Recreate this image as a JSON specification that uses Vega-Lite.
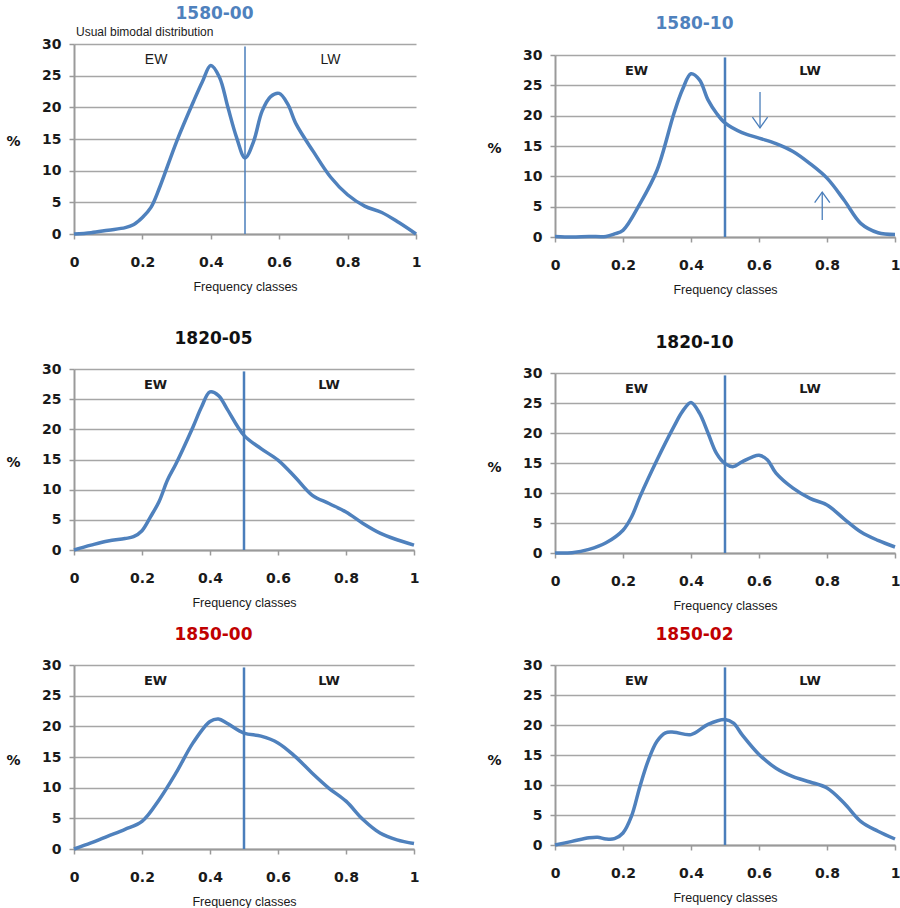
{
  "$schema": "https://vega.github.io/schema/vega-lite/v6.json",
  "background": "white",
  "padding": 5,
  "datasets": {
    "p1": [
      {"x":0,"y":0},{"x":0.05,"y":0.2},{"x":0.1,"y":0.6},{"x":0.15,"y":1.0},{"x":0.175,"y":1.5},{"x":0.2,"y":2.6},{"x":0.225,"y":4.2},{"x":0.25,"y":7.3},{"x":0.3,"y":14.6},{"x":0.35,"y":21},{"x":0.375,"y":24},{"x":0.4,"y":26.6},{"x":0.425,"y":24.8},{"x":0.45,"y":20},{"x":0.475,"y":15.3},{"x":0.5,"y":12},{"x":0.525,"y":14.6},{"x":0.55,"y":19.4},{"x":0.575,"y":21.7},{"x":0.6,"y":22.2},{"x":0.625,"y":20.5},{"x":0.65,"y":17.3},{"x":0.7,"y":13},{"x":0.75,"y":9},{"x":0.8,"y":6.2},{"x":0.85,"y":4.4},{"x":0.9,"y":3.4},{"x":0.95,"y":1.8},{"x":1,"y":0}
    ],
    "p2": [
      {"x":0,"y":0.1},{"x":0.05,"y":0},{"x":0.1,"y":0.1},{"x":0.15,"y":0.1},{"x":0.175,"y":0.5},{"x":0.2,"y":1.1},{"x":0.25,"y":5.5},{"x":0.3,"y":11},{"x":0.35,"y":20.4},{"x":0.375,"y":24.3},{"x":0.4,"y":26.9},{"x":0.425,"y":25.9},{"x":0.45,"y":22.6},{"x":0.475,"y":20.4},{"x":0.5,"y":18.8},{"x":0.55,"y":17.2},{"x":0.6,"y":16.3},{"x":0.65,"y":15.4},{"x":0.7,"y":14.1},{"x":0.75,"y":12.1},{"x":0.8,"y":9.7},{"x":0.85,"y":6.1},{"x":0.9,"y":2.2},{"x":0.95,"y":0.7},{"x":1,"y":0.4}
    ],
    "p3": [
      {"x":0,"y":0},{"x":0.05,"y":0.8},{"x":0.1,"y":1.5},{"x":0.15,"y":1.9},{"x":0.175,"y":2.2},{"x":0.2,"y":3.2},{"x":0.225,"y":5.5},{"x":0.25,"y":8},{"x":0.275,"y":11.6},{"x":0.3,"y":14.3},{"x":0.35,"y":20.4},{"x":0.375,"y":23.7},{"x":0.4,"y":26.2},{"x":0.425,"y":25.6},{"x":0.45,"y":23.4},{"x":0.5,"y":19},{"x":0.55,"y":16.8},{"x":0.6,"y":14.9},{"x":0.65,"y":12.1},{"x":0.7,"y":9.1},{"x":0.75,"y":7.7},{"x":0.8,"y":6.3},{"x":0.85,"y":4.4},{"x":0.9,"y":2.8},{"x":0.95,"y":1.7},{"x":1,"y":0.8}
    ],
    "p4": [
      {"x":0,"y":0},{"x":0.05,"y":0.05},{"x":0.1,"y":0.6},{"x":0.15,"y":1.7},{"x":0.2,"y":3.8},{"x":0.225,"y":6},{"x":0.25,"y":9.4},{"x":0.3,"y":15.5},{"x":0.35,"y":21.1},{"x":0.375,"y":23.6},{"x":0.4,"y":25.1},{"x":0.425,"y":23.3},{"x":0.45,"y":20},{"x":0.475,"y":16.6},{"x":0.5,"y":14.9},{"x":0.525,"y":14.4},{"x":0.55,"y":15.2},{"x":0.6,"y":16.3},{"x":0.625,"y":15.5},{"x":0.65,"y":13.3},{"x":0.7,"y":10.8},{"x":0.75,"y":9.1},{"x":0.8,"y":8},{"x":0.85,"y":5.7},{"x":0.9,"y":3.5},{"x":0.95,"y":2.1},{"x":1,"y":1}
    ],
    "p5": [
      {"x":0,"y":0},{"x":0.05,"y":1},{"x":0.1,"y":2.1},{"x":0.15,"y":3.2},{"x":0.2,"y":4.5},{"x":0.25,"y":8},{"x":0.3,"y":12.4},{"x":0.35,"y":17.3},{"x":0.4,"y":20.8},{"x":0.425,"y":21.2},{"x":0.45,"y":20.5},{"x":0.5,"y":18.9},{"x":0.55,"y":18.4},{"x":0.6,"y":17.3},{"x":0.65,"y":15.1},{"x":0.7,"y":12.4},{"x":0.75,"y":9.9},{"x":0.8,"y":7.8},{"x":0.85,"y":4.8},{"x":0.9,"y":2.6},{"x":0.95,"y":1.5},{"x":1,"y":0.9}
    ],
    "p6": [
      {"x":0,"y":0},{"x":0.05,"y":0.6},{"x":0.1,"y":1.2},{"x":0.125,"y":1.3},{"x":0.15,"y":1},{"x":0.175,"y":1.05},{"x":0.2,"y":2},{"x":0.225,"y":4.8},{"x":0.25,"y":9.8},{"x":0.275,"y":14.2},{"x":0.3,"y":17.3},{"x":0.325,"y":18.7},{"x":0.35,"y":18.8},{"x":0.4,"y":18.4},{"x":0.45,"y":20.1},{"x":0.5,"y":20.9},{"x":0.525,"y":20.3},{"x":0.55,"y":18.4},{"x":0.6,"y":15.1},{"x":0.65,"y":12.8},{"x":0.7,"y":11.4},{"x":0.75,"y":10.5},{"x":0.8,"y":9.5},{"x":0.85,"y":7},{"x":0.9,"y":3.9},{"x":0.95,"y":2.3},{"x":1,"y":1}
    ],
    "divider": [{"x":0.5,"y":0,"y2":29.6}],
    "zones": [{"label":"EW","x":0.24,"y":27.4},{"label":"LW","x":0.75,"y":27.4}]
  },
  "hconcat": [
    {
      "spacing": 37,
      "vconcat": [
        {
          "title": {"text": "1580-00", "color": "#4F81BD", "offset": 3},
          "width": 342, "height": 190,
          "encoding": {
            "x": {"field": "x", "type": "quantitative", "scale": {"domain": [0, 1], "nice": false, "zero": false}, "axis": {"values": [0, 0.2, 0.4, 0.6, 0.8, 1], "format": "~g", "title": "Frequency classes"}},
            "y": {"field": "y", "type": "quantitative", "scale": {"domain": [0, 30]}, "axis": {"values": [0, 5, 10, 15, 20, 25, 30], "title": "%", "titleY": 97}}
          },
          "layer": [
            {"data": {"name": "p1"}, "mark": {"type": "line", "interpolate": "catmull-rom", "color": "#4F81BD", "strokeWidth": 3.5}},
            {"data": {"name": "divider"}, "mark": {"type": "rule", "color": "#4A7EBB", "strokeWidth": 1.5}, "encoding": {"y2": {"field": "y2"}}},
            {"data": {"name": "zones"}, "mark": {"type": "text", "font": "Liberation Sans", "fontSize": 14, "color": "#1a1a1a"}, "encoding": {"text": {"field": "label"}}},
            {"data": {"values": [{"note": "Usual bimodal distribution", "x": 0, "y": 30}]}, "mark": {"type": "text", "align": "left", "baseline": "middle", "dx": 2, "dy": -12, "font": "Liberation Sans", "fontSize": 12, "color": "#1a1a1a"}, "encoding": {"text": {"field": "note"}}}
          ]
        },
        {
          "spacing": 17,
          "vconcat": [
            {
              "title": {"text": "1820-05", "color": "#111111"},
              "width": 340, "height": 181,
              "encoding": {
                "x": {"field": "x", "type": "quantitative", "scale": {"domain": [0, 1], "nice": false, "zero": false}, "axis": {"values": [0, 0.2, 0.4, 0.6, 0.8, 1], "format": "~g", "title": "Frequency classes"}},
                "y": {"field": "y", "type": "quantitative", "scale": {"domain": [0, 30]}, "axis": {"values": [0, 5, 10, 15, 20, 25, 30], "title": "%", "titleY": 93}}
              },
              "layer": [
                {"data": {"name": "p3"}, "mark": {"type": "line", "interpolate": "catmull-rom", "color": "#4F81BD", "strokeWidth": 3.5}},
                {"data": {"name": "divider"}, "mark": {"type": "rule", "color": "#4A7EBB", "strokeWidth": 2.5}, "encoding": {"y2": {"field": "y2"}}},
                {"data": {"name": "zones"}, "mark": {"type": "text", "font": "DejaVu Sans", "fontWeight": "bold", "fontSize": 13, "color": "#1a1a1a"}, "encoding": {"text": {"field": "label"}}}
              ]
            },
            {
              "title": {"text": "1850-00", "color": "#C00000"},
              "width": 340, "height": 184,
              "encoding": {
                "x": {"field": "x", "type": "quantitative", "scale": {"domain": [0, 1], "nice": false, "zero": false}, "axis": {"values": [0, 0.2, 0.4, 0.6, 0.8, 1], "format": "~g", "title": "Frequency classes"}},
                "y": {"field": "y", "type": "quantitative", "scale": {"domain": [0, 30]}, "axis": {"values": [0, 5, 10, 15, 20, 25, 30], "title": "%", "titleY": 95}}
              },
              "layer": [
                {"data": {"name": "p5"}, "mark": {"type": "line", "interpolate": "catmull-rom", "color": "#4F81BD", "strokeWidth": 3.5}},
                {"data": {"name": "divider"}, "mark": {"type": "rule", "color": "#4A7EBB", "strokeWidth": 2.5}, "encoding": {"y2": {"field": "y2"}}},
                {"data": {"name": "zones"}, "mark": {"type": "text", "font": "DejaVu Sans", "fontWeight": "bold", "fontSize": 13, "color": "#1a1a1a"}, "encoding": {"text": {"field": "label"}}}
              ]
            }
          ]
        }
      ]
    },
    {
      "spacing": 38,
      "vconcat": [
        {
          "title": {"text": "1580-10", "color": "#4F81BD", "offset": 11},
          "width": 340, "height": 193,
          "encoding": {
            "x": {"field": "x", "type": "quantitative", "scale": {"domain": [0, 1], "nice": false, "zero": false}, "axis": {"values": [0, 0.2, 0.4, 0.6, 0.8, 1], "format": "~g", "title": "Frequency classes"}},
            "y": {"field": "y", "type": "quantitative", "scale": {"domain": [0, 30], "range": [193, 11]}, "axis": {"values": [0, 5, 10, 15, 20, 25, 30], "title": "%", "titleY": 104}}
          },
          "layer": [
            {"data": {"name": "p2"}, "mark": {"type": "line", "interpolate": "catmull-rom", "color": "#4F81BD", "strokeWidth": 3.5}},
            {"data": {"name": "divider"}, "mark": {"type": "rule", "color": "#4A7EBB", "strokeWidth": 2.5}, "encoding": {"y2": {"field": "y2"}}},
            {"data": {"name": "zones"}, "mark": {"type": "text", "font": "DejaVu Sans", "fontWeight": "bold", "fontSize": 13, "color": "#1a1a1a"}, "encoding": {"text": {"field": "label"}}},
            {"data": {"values": [{"x": 0.603, "y": 23.9, "y2": 18}, {"x": 0.786, "y": 2.8, "y2": 7.4}]}, "mark": {"type": "rule", "color": "#4A7EBB", "strokeWidth": 1.3}, "encoding": {"y2": {"field": "y2"}}},
            {"data": {"values": [{"x": 0.603, "y": 18, "dir": "down"}, {"x": 0.786, "y": 7.4, "dir": "up"}]}, "mark": {"type": "point", "filled": false, "color": "#4A7EBB", "strokeWidth": 1.3, "opacity": 1, "size": 230},
             "encoding": {"shape": {"field": "dir", "type": "nominal", "scale": {"domain": ["down", "up"], "range": ["M-1,-1.4L0,0L1,-1.4", "M-1,1.4L0,0L1,1.4"]}, "legend": null}}}
          ]
        },
        {
          "spacing": 14,
          "vconcat": [
            {
              "title": {"text": "1820-10", "color": "#111111"},
              "width": 340, "height": 180,
              "encoding": {
                "x": {"field": "x", "type": "quantitative", "scale": {"domain": [0, 1], "nice": false, "zero": false}, "axis": {"values": [0, 0.2, 0.4, 0.6, 0.8, 1], "format": "~g", "title": "Frequency classes"}},
                "y": {"field": "y", "type": "quantitative", "scale": {"domain": [0, 30]}, "axis": {"values": [0, 5, 10, 15, 20, 25, 30], "title": "%", "titleY": 94}}
              },
              "layer": [
                {"data": {"name": "p4"}, "mark": {"type": "line", "interpolate": "catmull-rom", "color": "#4F81BD", "strokeWidth": 3.5}},
                {"data": {"name": "divider"}, "mark": {"type": "rule", "color": "#4A7EBB", "strokeWidth": 2.5}, "encoding": {"y2": {"field": "y2"}}},
                {"data": {"name": "zones"}, "mark": {"type": "text", "font": "DejaVu Sans", "fontWeight": "bold", "fontSize": 13, "color": "#1a1a1a"}, "encoding": {"text": {"field": "label"}}}
              ]
            },
            {
              "title": {"text": "1850-02", "color": "#C00000"},
              "width": 340, "height": 180,
              "encoding": {
                "x": {"field": "x", "type": "quantitative", "scale": {"domain": [0, 1], "nice": false, "zero": false}, "axis": {"values": [0, 0.2, 0.4, 0.6, 0.8, 1], "format": "~g", "title": "Frequency classes"}},
                "y": {"field": "y", "type": "quantitative", "scale": {"domain": [0, 30]}, "axis": {"values": [0, 5, 10, 15, 20, 25, 30], "title": "%", "titleY": 95}}
              },
              "layer": [
                {"data": {"name": "p6"}, "mark": {"type": "line", "interpolate": "catmull-rom", "color": "#4F81BD", "strokeWidth": 3.5}},
                {"data": {"name": "divider"}, "mark": {"type": "rule", "color": "#4A7EBB", "strokeWidth": 2.5}, "encoding": {"y2": {"field": "y2"}}},
                {"data": {"name": "zones"}, "mark": {"type": "text", "font": "DejaVu Sans", "fontWeight": "bold", "fontSize": 13, "color": "#1a1a1a"}, "encoding": {"text": {"field": "label"}}}
              ]
            }
          ]
        }
      ]
    }
  ],
  "spacing": 63,
  "config": {
    "view": {"stroke": null},
    "title": {"font": "DejaVu Sans", "fontSize": 17, "fontWeight": "bold", "anchor": "middle", "frame": "bounds", "offset": 14},
    "axis": {
      "labelFont": "DejaVu Sans", "labelFontWeight": "bold", "labelFontSize": 14, "labelColor": "#1a1a1a", "labelOverlap": false,
      "domainColor": "#9a9a9a", "domainWidth": 2, "tickColor": "#9a9a9a", "tickWidth": 1.5, "tickSize": 5,
      "gridColor": "#a6a6a6", "gridWidth": 1.5,
      "titleFont": "Liberation Sans", "titleFontWeight": "normal", "titleFontSize": 12.5, "titleColor": "#1a1a1a"
    },
    "axisX": {"grid": false, "labelPadding": 16, "titlePadding": 11, "labelFlush": false},
    "axisY": {"grid": true, "labelPadding": 8, "titleAngle": 0, "titleX": -61, "titleAlign": "center", "titleBaseline": "middle",
      "titleFont": "DejaVu Sans", "titleFontWeight": "bold", "titleFontSize": 14, "titleColor": "#111111"}
  }
}
